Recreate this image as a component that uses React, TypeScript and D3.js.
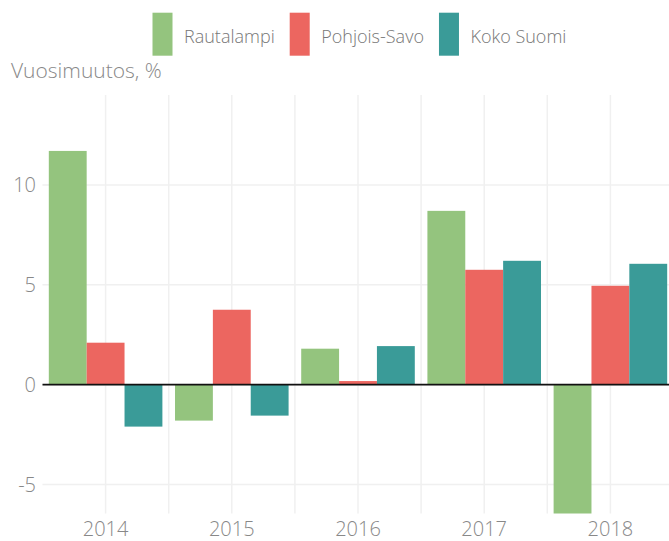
import { useEffect, useRef } from 'react';
import * as d3 from 'd3';

const width = 669;
const height = 541;

// data
const years = ['2014', '2015', '2016', '2017', '2018'];
const seriesNames = ['Rautalampi', 'Pohjois-Savo', 'Koko Suomi'];
const rautalampi = [11.7, -1.8, 1.8, 8.7, -6.45];
const pohjoisSavo = [2.1, 3.75, 0.18, 5.75, 4.95];
const kokoSuomi = [-2.1, -1.55, 1.93, 6.2, 6.05];
const yTicks = [-5, 0, 5, 10];
const colours = ['#94C47E', '#EC6660', '#3A9B98'];

const font = '"Open Sans", Lato, sans-serif';

const App = () => {
  const ref = useRef<SVGSVGElement>(null);

  useEffect(() => {
    const svg = d3.select(ref.current);
    svg.selectAll('*').remove();

    const plot = { left: 42.5, right: 673.5, top: 95, bottom: 513.5 };

    const x = d3.scaleBand().domain(years).range([plot.left, plot.right]).padding(0);
    const inner = d3
      .scaleBand()
      .domain(seriesNames)
      .range([0, x.bandwidth() * 0.9]);
    const y = d3.scaleLinear().domain([-6.45, 14.5]).range([plot.bottom, plot.top]);

    const grid = svg.append('g');
    // vertical gridlines: band centres and band boundaries
    years.forEach((yr, i) => {
      const cx = x(yr)! + x.bandwidth() / 2;
      grid.append('line')
        .attr('x1', cx).attr('x2', cx)
        .attr('y1', plot.top).attr('y2', plot.bottom)
        .attr('stroke', '#f0f0f0').attr('stroke-width', 1.5);
      if (i > 0) {
        const bx = x(yr)!;
        grid.append('line')
          .attr('x1', bx).attr('x2', bx)
          .attr('y1', plot.top).attr('y2', plot.bottom)
          .attr('stroke', '#f0f0f0').attr('stroke-width', 1.5);
      }
    });
    yTicks.forEach((t) => {
      grid.append('line')
        .attr('x1', plot.left).attr('x2', plot.right)
        .attr('y1', y(t)).attr('y2', y(t))
        .attr('stroke', '#f0f0f0').attr('stroke-width', 1.5);
    });

    // bars
    const data = [rautalampi, pohjoisSavo, kokoSuomi];
    const bars = svg.append('g');
    data.forEach((values, s) => {
      bars.selectAll(null)
        .data(values)
        .enter()
        .append('rect')
        .attr('x', (_, i) => x(years[i])! + x.bandwidth() * 0.05 + inner(seriesNames[s])!)
        .attr('width', inner.bandwidth())
        .attr('y', (d) => y(Math.max(0, d)))
        .attr('height', (d) => Math.abs(y(d) - y(0)))
        .attr('fill', colours[s]);
    });

    // zero line
    svg.append('line')
      .attr('x1', plot.left).attr('x2', plot.right)
      .attr('y1', y(0)).attr('y2', y(0))
      .attr('stroke', '#111').attr('stroke-width', 1.6);

    // y axis labels
    svg.append('g')
      .selectAll('text')
      .data(yTicks)
      .enter()
      .append('text')
      .attr('x', 36)
      .attr('y', (d) => y(d))
      .attr('dy', '0.36em')
      .attr('text-anchor', 'end')
      .attr('font-family', font)
      .attr('font-weight', 300)
      .attr('font-size', 20)
      .attr('fill', '#888')
      .text((d) => d);

    // x axis labels
    svg.append('g')
      .selectAll('text')
      .data(years)
      .enter()
      .append('text')
      .attr('x', (d) => x(d)! + x.bandwidth() / 2)
      .attr('y', 536)
      .attr('text-anchor', 'middle')
      .attr('font-family', font)
      .attr('font-weight', 300)
      .attr('font-size', 20)
      .attr('fill', '#888')
      .text((d) => d);

    // axis title
    svg.append('text')
      .attr('x', 11)
      .attr('y', 78)
      .attr('font-family', font)
      .attr('font-weight', 300)
      .attr('font-size', 21)
      .attr('fill', '#888')
      .text('Vuosimuutos, %');

    // legend
    const legend = svg.append('g');
    let lx = 152.5;
    seriesNames.forEach((name, i) => {
      legend.append('rect')
        .attr('x', lx).attr('y', 12.7)
        .attr('width', 20).attr('height', 43)
        .attr('fill', colours[i]);
      const t = legend.append('text')
        .attr('x', lx + 31.5)
        .attr('y', 37)
        .attr('dy', '0.36em')
        .attr('font-family', font)
        .attr('font-weight', 300)
        .attr('font-size', 18)
        .attr('fill', '#777')
        .text(name);
      const tw = (t.node() as SVGTextElement).getComputedTextLength();
      lx = lx + 31.5 + tw + 15;
    });
  }, []);

  return (
    <svg
      ref={ref}
      width={width}
      height={height}
      style={{ position: 'absolute', left: 0, top: 0, background: '#fff' }}
    />
  );
};

export default App;
